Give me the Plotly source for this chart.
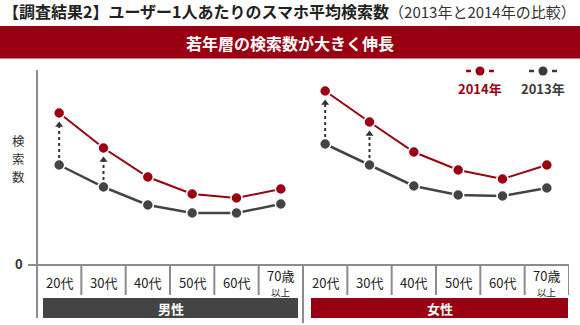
import plotly.graph_objects as go

# ---- data ----
age_labels = ["20代", "30代", "40代", "50代", "60代", "70歳"]
age_sublabels = ["", "", "", "", "", "以上"]
male_2014 = [152, 117, 88, 71, 67, 76]
male_2013 = [100, 78, 60, 52, 52, 61]
female_2014 = [174, 143, 113, 95, 86, 100]
female_2013 = [121, 100, 79, 70, 69, 77]
arrow_idx = [0, 1]  # age groups with growth arrows
groups = ["男性", "女性"]
y_label_chars = ["検", "索", "数"]

W, H = 580, 325
RED = "#990012"
GRAY = "#444444"
AXIS = "#8c8c8c"
FONT = "Noto Sans CJK JP"

def px(x):
    return x / W

def py(y):
    return 1 - y / H

x_male = list(range(6))
x_female = list(range(6, 12))

fig = go.Figure()

def add_series(xs, ys, color, width):
    fig.add_trace(go.Scatter(
        x=xs, y=ys, mode="lines+markers",
        line=dict(color=color, width=width),
        marker=dict(size=11, color=color, line=dict(color="white", width=1.5)),
        hoverinfo="skip", showlegend=False))

# growth arrows (dotted with arrowhead)
for xs, lo, hi in [(x_male, male_2013, male_2014), (x_female, female_2013, female_2014)]:
    for i in arrow_idx:
        fig.add_trace(go.Scatter(
            x=[xs[i], xs[i]], y=[lo[i] + 7, hi[i] - 13], mode="lines",
            line=dict(color="#333333", width=2, dash="dot"),
            hoverinfo="skip", showlegend=False))
        fig.add_trace(go.Scatter(
            x=[xs[i]], y=[hi[i] - 12], mode="markers",
            marker=dict(symbol="triangle-up", size=7, color="#333333"),
            hoverinfo="skip", showlegend=False))

add_series(x_male, male_2013, GRAY, 2.5)
add_series(x_female, female_2013, GRAY, 2.5)
add_series(x_male, male_2014, RED, 2)
add_series(x_female, female_2014, RED, 2)

shapes = []
annotations = []

# banner
shapes.append(dict(type="rect", xref="paper", yref="paper", x0=0, x1=1, y0=py(58.5), y1=py(26),
                   fillcolor=RED, line=dict(width=0), layer="below"))
annotations.append(dict(xref="paper", yref="paper", x=px(290), y=py(43), text="<b>若年層の検索数が大きく伸長</b>",
                        showarrow=False, font=dict(family=FONT, size=16, color="white"),
                        xanchor="center", yanchor="middle"))
# title
annotations.append(dict(xref="paper", yref="paper", x=px(1), y=py(11),
                        text="<b>【調査結果2】ユーザー1人あたりのスマホ平均検索数</b>"
                             "<span style='font-size:15px;color:#333'>（2013年と2014年の比較）</span>",
                        showarrow=False, font=dict(family=FONT, size=16, color="#222222"),
                        xanchor="left", yanchor="middle"))

# axes
shapes.append(dict(type="line", xref="paper", yref="paper", x0=px(37), x1=px(37), y0=py(70), y1=py(318),
                   line=dict(color=AXIS, width=2)))
shapes.append(dict(type="line", xref="paper", yref="paper", x0=px(28), x1=px(569), y0=py(265), y1=py(265),
                   line=dict(color=AXIS, width=2)))
for k in range(1, 13):
    bottom = 323 if k == 6 else 295
    shapes.append(dict(type="line", xref="x", yref="paper", x0=k - 0.5, x1=k - 0.5, y0=py(265), y1=py(bottom),
                       line=dict(color=AXIS, width=2)))

annotations.append(dict(xref="paper", yref="paper", x=px(19), y=py(263), text="<b>0</b>", showarrow=False,
                        font=dict(family=FONT, size=13, color="#333333"), xanchor="center", yanchor="middle"))
for j, ch in enumerate(y_label_chars):
    annotations.append(dict(xref="paper", yref="paper", x=px(18), y=py(140 + 18 * j), text=ch, showarrow=False,
                            font=dict(family=FONT, size=12.5, color="#333333"), xanchor="center",
                            yanchor="middle", borderpad=0))

# category labels
for xs in (x_male, x_female):
    for i, (lab, sub) in enumerate(zip(age_labels, age_sublabels)):
        if sub:
            annotations.append(dict(xref="x", yref="paper", x=xs[i], y=py(275.5), text=lab, showarrow=False,
                                    font=dict(family=FONT, size=13, color="#222222"),
                                    xanchor="center", yanchor="middle", borderpad=0))
            annotations.append(dict(xref="x", yref="paper", x=xs[i], y=py(291.5), text=sub, showarrow=False,
                                    font=dict(family=FONT, size=9.5, color="#222222"),
                                    xanchor="center", yanchor="middle", borderpad=0))
        else:
            annotations.append(dict(xref="x", yref="paper", x=xs[i], y=py(282), text=lab, showarrow=False,
                                    font=dict(family=FONT, size=13, color="#222222"),
                                    xanchor="center", yanchor="middle"))

# group bars
for (x0, x1, color), name in zip([(43, 298, GRAY), (311, 568, RED)], groups):
    shapes.append(dict(type="rect", xref="paper", yref="paper", x0=px(x0), x1=px(x1), y0=py(318), y1=py(298),
                       fillcolor=color, line=dict(width=0)))
    annotations.append(dict(xref="paper", yref="paper", x=px((x0 + x1) / 2), y=py(308), text=f"<b>{name}</b>",
                            showarrow=False, font=dict(family=FONT, size=13, color="white"),
                            xanchor="center", yanchor="middle"))

# legend
for cx, color, label in [(480, RED, "2014年"), (543, "#3a3a3a", "2013年")]:
    for a, b in [(cx - 14, cx - 9), (cx + 9, cx + 14)]:
        shapes.append(dict(type="line", xref="paper", yref="paper", x0=px(a), x1=px(b), y0=py(71), y1=py(71),
                           line=dict(color=color, width=2.5)))
    shapes.append(dict(type="circle", xref="paper", yref="paper", x0=px(cx - 4.5), x1=px(cx + 4.5),
                       y0=py(75.5), y1=py(66.5), fillcolor=color, line=dict(width=0)))
    annotations.append(dict(xref="paper", yref="paper", x=px(cx), y=py(88), text=f"<b>{label}</b>",
                            showarrow=False, font=dict(family=FONT, size=13, color=color),
                            xanchor="center", yanchor="middle"))

fig.update_layout(
    width=W, height=H,
    margin=dict(l=0, r=0, t=0, b=0),
    paper_bgcolor="white", plot_bgcolor="white",
    xaxis=dict(domain=[px(37), px(569)], range=[-0.5, 11.5], visible=False, fixedrange=True),
    yaxis=dict(domain=[py(265), py(70)], range=[0, 195], visible=False, fixedrange=True),
    shapes=shapes, annotations=annotations,
    showlegend=False,
)

fig.write_html("out.html", config={"displayModeBar": False})
